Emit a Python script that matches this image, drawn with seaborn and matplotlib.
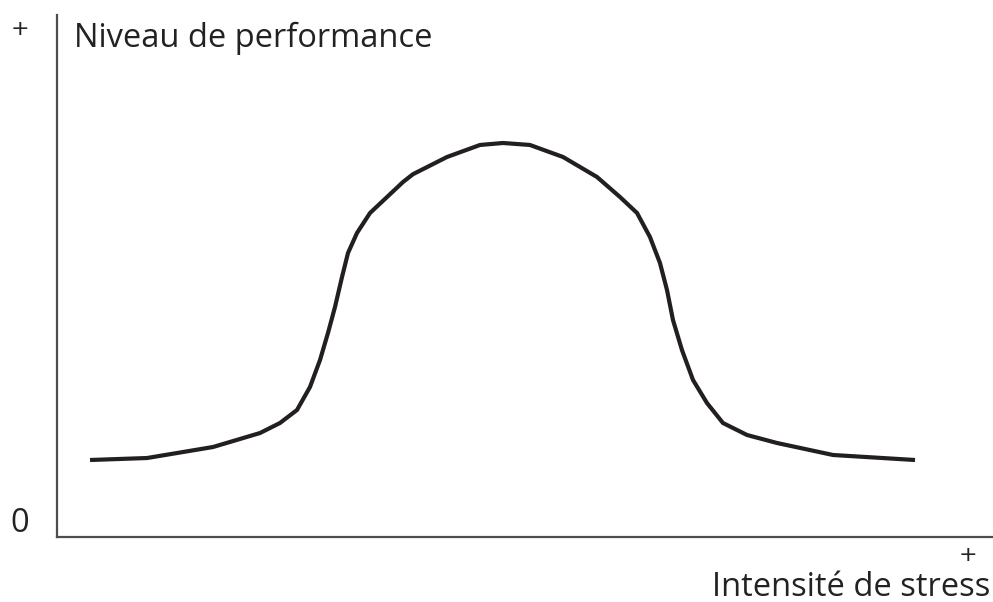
import matplotlib
matplotlib.use("Agg")
import matplotlib.pyplot as plt
import seaborn as sns
import pandas as pd

# stress intensity (0-100) vs performance level (0-100)
stress = [3.53, 9.62, 16.67, 21.69, 23.82, 25.64, 27.03, 28.10, 28.95, 29.70,
          30.45, 31.09, 32.05, 33.44, 35.26, 36.97, 38.03, 41.67, 45.19, 47.65,
          50.53, 54.06, 57.69, 60.15, 61.97, 63.35, 64.42, 65.17, 65.81, 66.77,
          67.95, 69.44, 71.15, 73.72, 76.92, 82.91, 91.67]
performance = [14.75, 15.13, 17.24, 19.92, 21.84, 24.33, 28.74, 33.91, 39.08, 44.06,
               49.81, 54.41, 58.24, 62.07, 65.13, 68.01, 69.50, 72.80, 75.10, 75.48,
               75.10, 72.80, 68.97, 65.13, 62.07, 57.47, 52.49, 47.32, 41.57, 35.82,
               30.08, 25.67, 21.84, 19.54, 18.01, 15.71, 14.75]

df = pd.DataFrame({"stress": stress, "performance": performance})

sns.set_style("white")
plt.rcParams['font.family'] = ['Open Sans', 'DejaVu Sans']

W, H = 993, 602
fig = plt.figure(figsize=(W / 100, H / 100), dpi=100)
left, right, top, bottom = 57, 993, 15, 537
ax = fig.add_axes([left / W, 1 - bottom / H, (right - left) / W, (bottom - top) / H])

sns.lineplot(data=df, x="stress", y="performance", ax=ax, color="#231f20",
             linewidth=3, solid_capstyle="butt", solid_joinstyle="round")

ax.set_xlim(0, 100)
ax.set_ylim(0, 100)
ax.set_xticks([])
ax.set_yticks([])
ax.set_xlabel("")
ax.set_ylabel("")
sns.despine(ax=ax)
for s in ["left", "bottom"]:
    ax.spines[s].set_color("#4d4d4d")
    ax.spines[s].set_linewidth(1.6)

txt = "#222222"
fs = 23.5
def px(x, y):
    return x / W, 1 - y / H

fig.text(*px(74, 38), "Niveau de performance", fontsize=fs, color=txt, va="center", ha="left")
fig.text(*px(20, 29), "+", fontsize=16, color=txt, va="center", ha="center", family="DejaVu Sans")
fig.text(*px(20, 524), "0", fontsize=fs, color=txt, va="center", ha="center")
fig.text(*px(968, 555), "+", fontsize=16, color=txt, va="center", ha="center", family="DejaVu Sans")
fig.text(*px(990, 587), "Intensité de stress", fontsize=fs, color=txt, va="center", ha="right")

fig.savefig("out.png", dpi=100)
